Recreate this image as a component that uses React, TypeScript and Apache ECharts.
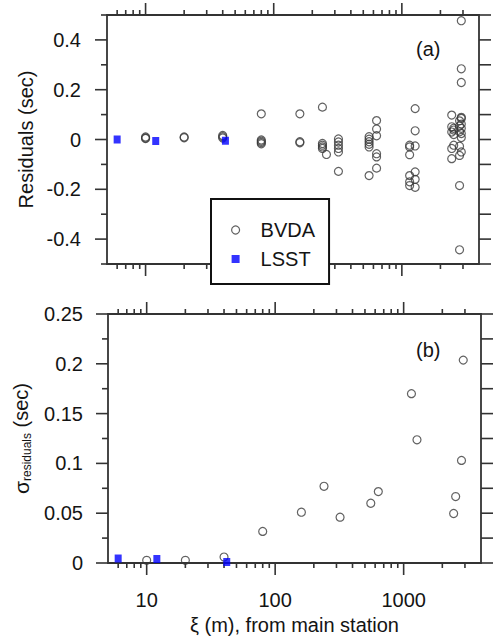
import React, { useEffect, useRef } from 'react';
import * as echarts from 'echarts';

// ---- tick values ----
const xMajorTicks = [10, 100, 1000];
const xMinorTicks = [6, 7, 8, 9, 20, 30, 40, 50, 60, 70, 80, 90, 200, 300, 400, 500, 600, 700, 800, 900, 2000, 3000];
const residualMajorTicks = [-0.4, -0.2, 0, 0.2, 0.4];
const residualMinorTicks = [-0.5, -0.3, -0.1, 0.1, 0.3, 0.5];
const sigmaMajorTicks = [0, 0.05, 0.1, 0.15, 0.2, 0.25];
const sigmaMinorTicks = [0.025, 0.075, 0.125, 0.175, 0.225];

// ---- LSST ----
const lsstDistance = [6, 12, 42];
const lsstResidual = [0.0, -0.006, -0.005];
const lsstSigma = [0.0045, 0.004, 0.001];

// ---- BVDA residuals [distance m, residual s] ----
const bvdaResiduals: number[][] = [
  [10, 0.010], [10, 0.006], [10, 0.004],
  [20, 0.010], [20, 0.007],
  [40, 0.016], [40, 0.011], [40, 0.006],
  [80, 0.103], [80, -0.002], [80, -0.007], [80, -0.012], [80, -0.017],
  [160, 0.103], [160, -0.009], [160, -0.013],
  [240, 0.130], [240, -0.016], [240, -0.023], [240, -0.030], [240, -0.036],
  [258, -0.060],
  [320, 0.002], [320, -0.010], [320, -0.023], [320, -0.036], [320, -0.050], [320, -0.128],
  [555, 0.011], [555, 0.001], [555, -0.009], [555, -0.019], [555, -0.030], [555, -0.145],
  [635, 0.076], [635, 0.042], [635, 0.015], [635, -0.057], [635, -0.070], [635, -0.115],
  [1150, -0.023], [1150, -0.030], [1150, -0.061], [1150, -0.145], [1150, -0.170], [1150, -0.185],
  [1270, 0.124], [1270, 0.035], [1270, -0.026], [1270, -0.130], [1270, -0.160], [1270, -0.192],
  [2450, 0.098], [2450, 0.051], [2450, 0.030], [2450, -0.036], [2450, -0.077],
  [2540, 0.038], [2540, 0.045], [2540, 0.020], [2540, -0.023],
  [2820, 0.054], [2820, 0.031], [2820, 0.075], [2820, -0.027], [2820, -0.064], [2820, -0.185], [2820, -0.443],
  [2910, 0.477], [2910, 0.284], [2910, 0.229], [2910, 0.085], [2910, 0.089], [2910, 0.062],
  [2910, 0.045], [2910, 0.024], [2910, 0.008], [2910, -0.050],
];

// ---- BVDA sigma [distance m, sigma s] ----
const bvdaSigma: number[][] = [
  [10, 0.0027], [20, 0.0027], [40, 0.006], [80, 0.0317], [160, 0.051], [240, 0.077],
  [320, 0.046], [555, 0.060], [635, 0.0717], [1150, 0.170], [1270, 0.1237],
  [2450, 0.0497], [2540, 0.0667], [2820, 0.103], [2910, 0.2037],
];

const X_MIN = 5;
const X_MAX = 4000;
const FONT = '"Liberation Sans", Arial, Helvetica, sans-serif';
const AX = '#333333';
const TXT = '#141414';

function tickSeries(gi: number, yMin: number, yMax: number, yMajor: number[], yMinor: number[]) {
  const data = [
    ...xMajorTicks.map((v) => [v, yMin, 0]),
    ...xMinorTicks.map((v) => [v, yMin, 1]),
    ...yMajor.map((v) => [X_MIN, v, 2]),
    ...yMinor.map((v) => [X_MIN, v, 3]),
  ];
  return {
    type: 'custom',
    xAxisIndex: gi,
    yAxisIndex: gi,
    silent: true,
    clip: false,
    z: 3,
    data,
    renderItem: (params: any, api: any) => {
      const kind = api.value(2);
      const st = { stroke: AX, lineWidth: 1.6 };
      if (kind < 2) {
        const v = api.value(0);
        const top = api.coord([v, yMax]);
        const bot = api.coord([v, yMin]);
        const L = kind === 0 ? 12 : 5;
        return {
          type: 'group',
          children: [
            { type: 'line', shape: { x1: top[0], y1: top[1], x2: top[0], y2: top[1] - L }, style: st },
            { type: 'line', shape: { x1: bot[0], y1: bot[1], x2: bot[0], y2: bot[1] + L }, style: st },
          ],
        };
      }
      const v = api.value(1);
      const left = api.coord([X_MIN, v]);
      const right = api.coord([X_MAX, v]);
      const L = kind === 2 ? 12 : 6;
      return {
        type: 'group',
        children: [
          { type: 'line', shape: { x1: left[0], y1: left[1], x2: left[0] - L, y2: left[1] }, style: st },
          { type: 'line', shape: { x1: right[0], y1: right[1], x2: right[0] + 12, y2: right[1] }, style: st },
        ],
      };
    },
  };
}

const circleStyle = { color: 'rgba(0,0,0,0)', borderColor: '#3a3a3a', borderWidth: 1.2 };
const squareStyle = { color: '#0000ff' };

export default function App() {
  const ref = useRef<HTMLDivElement>(null);
  useEffect(() => {
    document.body.style.margin = '0';
    const chart = echarts.init(ref.current!, null, { renderer: 'svg' });
    const xBase = {
      type: 'log',
      logBase: 10,
      min: X_MIN,
      max: X_MAX,
      axisLine: { show: false },
      axisTick: { show: false },
      splitLine: { show: false },
      minorTick: { show: false },
    };
    chart.setOption({
      animation: false,
      backgroundColor: '#fff',
      textStyle: { fontFamily: FONT },
      grid: [
        { left: 107, top: 15, width: 372, height: 249, show: true, borderColor: AX, borderWidth: 1.8, backgroundColor: 'rgba(0,0,0,0)' },
        { left: 108, top: 314, width: 373, height: 249, show: true, borderColor: AX, borderWidth: 1.8, backgroundColor: 'rgba(0,0,0,0)' },
      ],
      xAxis: [
        { ...xBase, gridIndex: 0, axisLabel: { show: false } },
        {
          ...xBase,
          gridIndex: 1,
          axisLabel: {
            show: true,
            margin: 27,
            fontSize: 20,
            color: TXT,
            fontFamily: FONT,
            formatter: (v: number) => {
              const r = Math.round(v);
              return xMajorTicks.indexOf(r) >= 0 ? String(r) : '';
            },
          },
          name: 'ξ (m), from main station',
          nameLocation: 'middle',
          nameGap: 52,
          nameTextStyle: { fontSize: 20, color: TXT, fontFamily: FONT },
        },
      ],
      yAxis: [
        {
          type: 'value',
          gridIndex: 0,
          min: -0.5,
          max: 0.5,
          interval: 0.1,
          axisLine: { show: false },
          axisTick: { show: false },
          splitLine: { show: false },
          axisLabel: {
            margin: 26,
            fontSize: 20,
            color: TXT,
            fontFamily: FONT,
            formatter: (v: number) => {
              const k = Math.round(v * 10);
              if (k % 2 !== 0 || Math.abs(k) > 4) return '';
              return k === 0 ? '0' : String(k / 10);
            },
          },
          name: 'Residuals (sec)',
          nameLocation: 'middle',
          nameGap: 68,
          nameTextStyle: { fontSize: 20, color: TXT, fontFamily: FONT },
        },
        {
          type: 'value',
          gridIndex: 1,
          min: 0,
          max: 0.25,
          interval: 0.025,
          axisLine: { show: false },
          axisTick: { show: false },
          splitLine: { show: false },
          axisLabel: {
            margin: 25,
            fontSize: 20,
            color: TXT,
            fontFamily: FONT,
            formatter: (v: number) => {
              const k = Math.round(v * 1000);
              if (k % 50 !== 0) return '';
              return String(Number(v.toFixed(3)));
            },
          },
          name: '{s|σ}{sub|residuals}{n| (sec)}',
          nameLocation: 'middle',
          nameGap: 72,
          nameTextStyle: {
            color: TXT,
            fontFamily: FONT,
            rich: {
              s: { fontSize: 21, lineHeight: 24, color: TXT, fontFamily: FONT, verticalAlign: 'middle' },
              sub: { fontSize: 12, lineHeight: 24, color: TXT, fontFamily: FONT, verticalAlign: 'bottom' },
              n: { fontSize: 20, lineHeight: 24, color: TXT, fontFamily: FONT, verticalAlign: 'middle' },
            },
          },
        },
      ],
      legend: {
        left: 211,
        top: 199,
        orient: 'vertical',
        selectedMode: false,
        backgroundColor: '#fff',
        borderColor: '#111',
        borderWidth: 2,
        borderRadius: 0,
        padding: [21, 14, 15, 20],
        itemGap: 9,
        itemWidth: 8,
        itemHeight: 8,
        z: 10,
        textStyle: { fontSize: 20, color: TXT, fontFamily: FONT, padding: [0, 0, 0, 16] },
        data: [
          { name: 'BVDA', icon: 'circle', itemStyle: { color: 'rgba(0,0,0,0)', borderColor: '#3a3a3a', borderWidth: 1.2 } },
          { name: 'LSST', icon: 'rect', itemStyle: { color: '#0000ff' } },
        ],
      },
      graphic: [
        { type: 'text', left: 416, top: 39, z: 20, style: { text: '(a)', fontSize: 20, fill: TXT, font: `20px ${FONT}` } },
        { type: 'text', left: 416, top: 340, z: 20, style: { text: '(b)', fontSize: 20, fill: TXT, font: `20px ${FONT}` } },
      ],
      series: [
        tickSeries(0, -0.5, 0.5, residualMajorTicks, residualMinorTicks),
        tickSeries(1, 0, 0.25, sigmaMajorTicks, sigmaMinorTicks),
        {
          name: 'BVDA',
          type: 'scatter',
          xAxisIndex: 0,
          yAxisIndex: 0,
          symbol: 'circle',
          symbolSize: 8,
          itemStyle: circleStyle,
          data: bvdaResiduals,
          z: 4,
        },
        {
          name: 'LSST',
          type: 'scatter',
          xAxisIndex: 0,
          yAxisIndex: 0,
          symbol: 'rect',
          symbolSize: [7, 8],
          itemStyle: squareStyle,
          data: lsstDistance.map((d, i) => [d, lsstResidual[i]]),
          z: 5,
        },
        {
          name: 'BVDA',
          type: 'scatter',
          xAxisIndex: 1,
          yAxisIndex: 1,
          symbol: 'circle',
          symbolSize: 8,
          itemStyle: circleStyle,
          data: bvdaSigma,
          clip: false,
          z: 4,
        },
        {
          name: 'LSST',
          type: 'scatter',
          xAxisIndex: 1,
          yAxisIndex: 1,
          symbol: 'rect',
          symbolSize: [7, 8],
          itemStyle: squareStyle,
          data: lsstDistance.map((d, i) => [d, lsstSigma[i]]),
          clip: false,
          z: 5,
        },
      ],
    });
    return () => chart.dispose();
  }, []);
  return <div ref={ref} style={{ width: 494, height: 638 }} />;
}
